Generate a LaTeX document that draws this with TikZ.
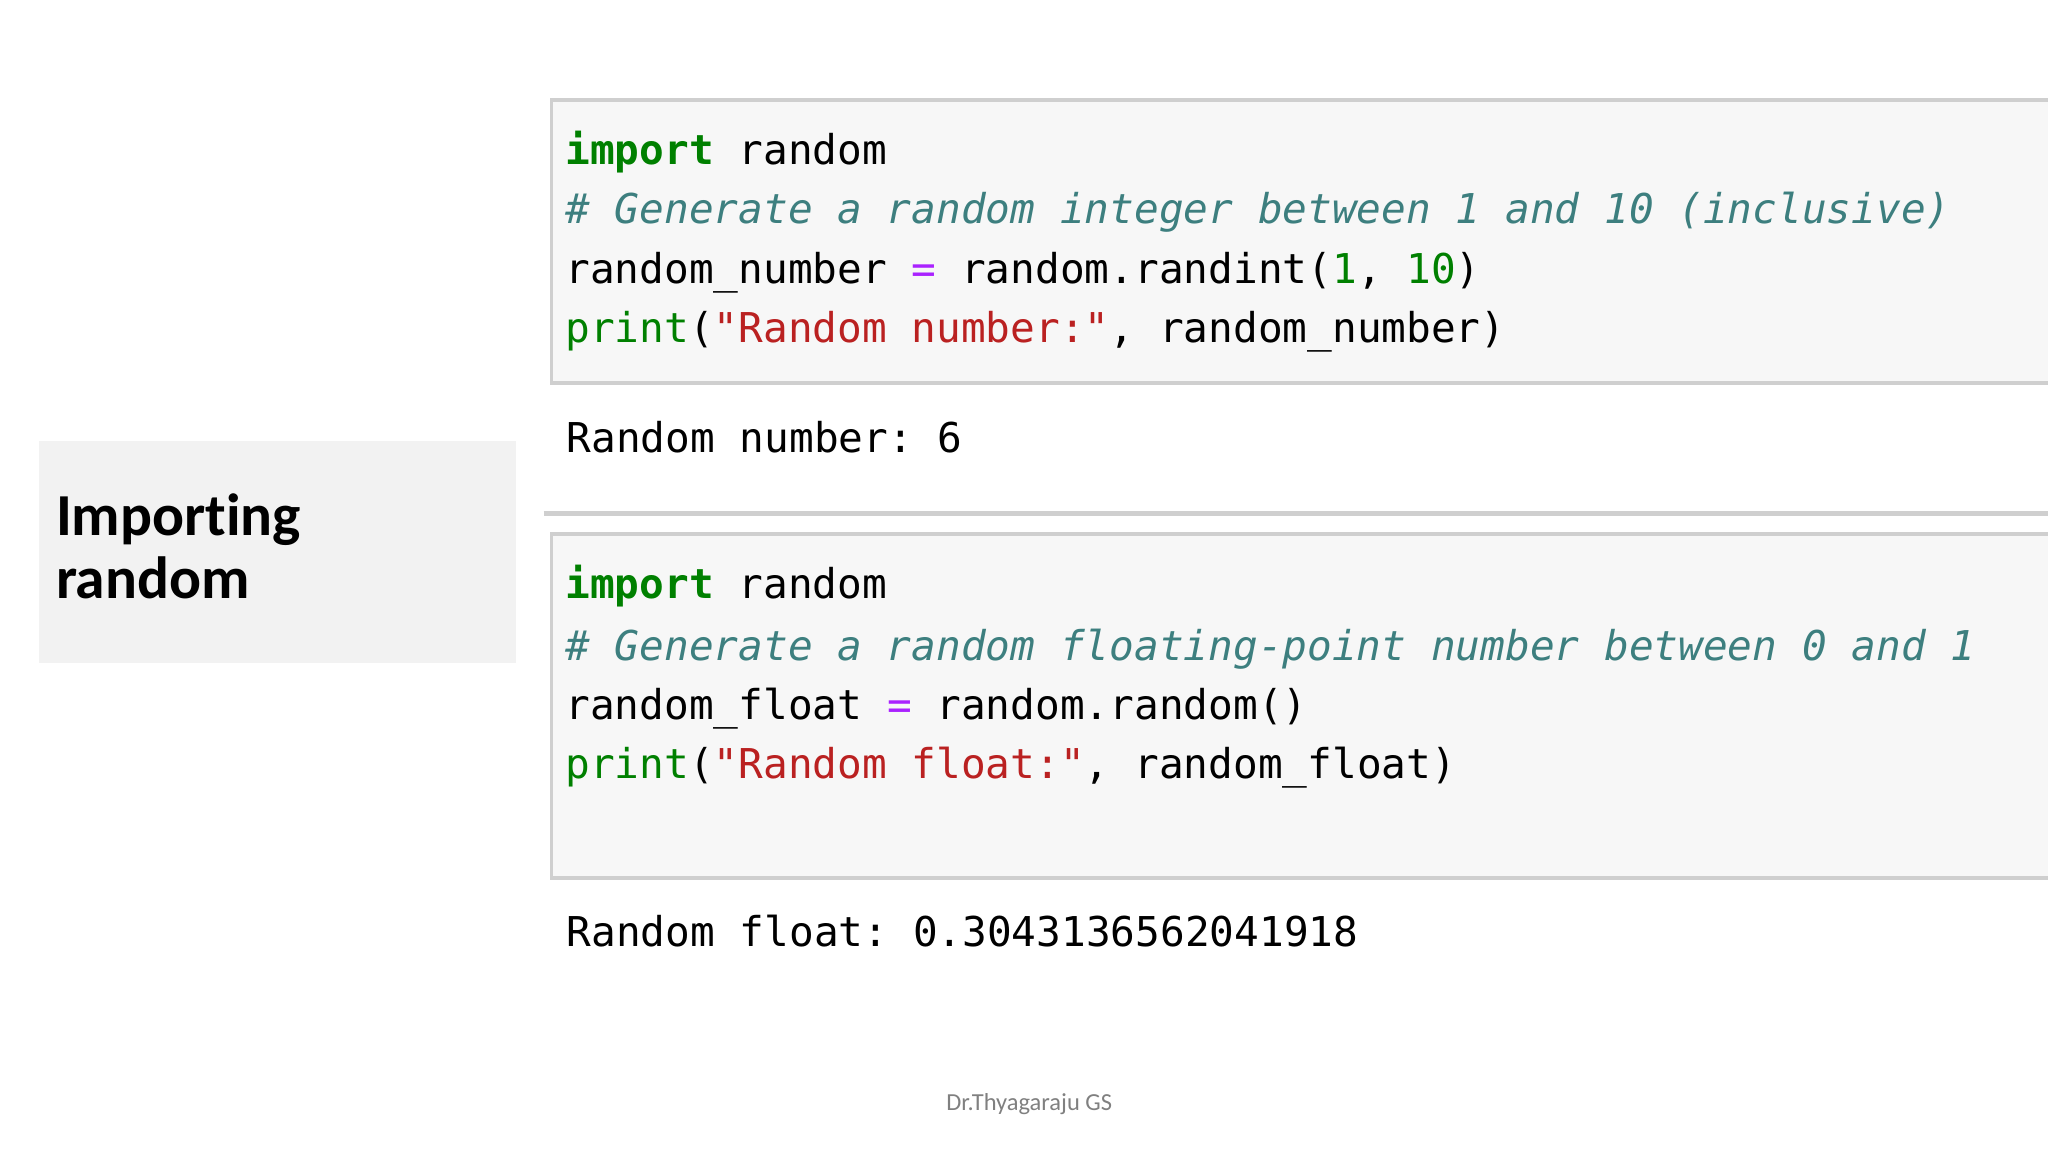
\documentclass[tikz,border=0pt]{standalone}
\usepackage{fontspec}
\setmainfont{Carlito}[Ligatures=NoCommon]
\setmonofont{DejaVu Sans Mono}
\definecolor{kwgreen}{HTML}{008000}
\definecolor{cmteal}{HTML}{3D7F7F}
\definecolor{oppurple}{HTML}{AA22FF}
\definecolor{strred}{HTML}{BA2121}
\definecolor{cellbg}{HTML}{F7F7F7}
\definecolor{cellline}{HTML}{CFCFCF}
\definecolor{titlebg}{HTML}{F2F2F2}
\newcommand{\kw}[1]{\textcolor{kwgreen}{\textbf{#1}}}
\newcommand{\cm}[1]{\textcolor{cmteal}{\textit{#1}}}
\newcommand{\op}[1]{\textcolor{oppurple}{#1}}
\newcommand{\str}[1]{\textcolor{strred}{#1}}
\newcommand{\nm}[1]{\textcolor{kwgreen}{#1}}
\tikzset{
  codeline/.style={anchor=base west, inner sep=0pt, font=\ttfamily\fontsize{8.9}{10}\selectfont},
  cell/.style={fill=cellbg, draw=cellline, line width=0.8pt},
}
\begin{document}
\begin{tikzpicture}[x=0.01cm, y=-0.01cm]
 \useasboundingbox (0,0) rectangle (1560,877);

 % title box
 \fill[titlebg] (30,336) rectangle (393,505);
 \node[anchor=north west, inner sep=0pt, align=left, font=\bfseries\fontsize{12.9}{13.8}\selectfont] (title) at (42,375) {Importing\\random};

 % first cell
 \draw[cell] (1562,76) -- (420,76) -- (420,292) -- (1562,292);
 \node[codeline] (a1) at (430,125) {\kw{import} random};
 \node[codeline] (a2) at (430,170) {\cm{\# Generate a random integer between 1 and 10 (inclusive)}};
 \node[codeline] (a3) at (430,216) {random\_number \op{=} random.randint(\nm{1}, \nm{10})};
 \node[codeline] (a4) at (430,261) {\nm{print}(\str{"Random number:"}, random\_number)};
 \node[codeline] (out1) at (431,345) {Random number: 6};

 \draw[cellline, line width=1.2pt] (414,391) -- (1562,391);

 % second cell
 \draw[cell] (1562,407) -- (420,407) -- (420,669) -- (1562,669);
 \node[codeline] (b1) at (430,456) {\kw{import} random};
 \node[codeline] (b2) at (430,503) {\cm{\# Generate a random floating-point number between 0 and 1}};
 \node[codeline] (b3) at (430,548) {random\_float \op{=} random.random()};
 \node[codeline] (b4) at (430,593) {\nm{print}(\str{"Random float:"}, random\_float)};
 \node[codeline] (out2) at (431,721) {Random float: 0.3043136562041918};

 % footer
 \node[text=gray, font=\fontsize{5.3}{6}\selectfont] (footer) at (784,841) {Dr.Thyagaraju GS};
\end{tikzpicture}
\end{document}
